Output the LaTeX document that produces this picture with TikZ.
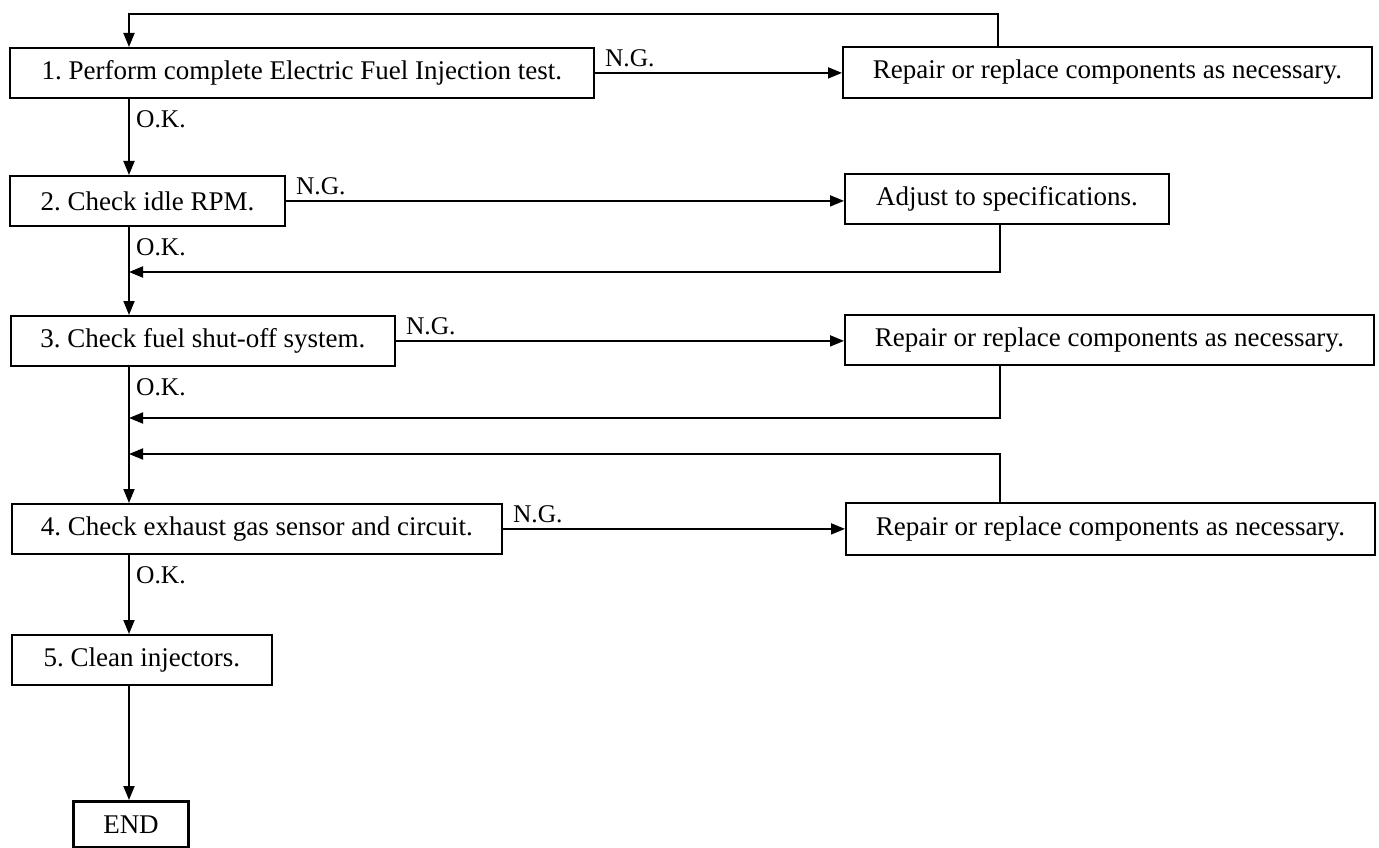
\documentclass[tikz,border=0pt]{standalone}
\usepackage{fontspec}
\setmainfont{Liberation Serif}
\usetikzlibrary{arrows.meta}
\begin{document}
\begin{tikzpicture}[x=1pt,y=-1pt,
  boxs/.style={draw, line width=1.8pt, rectangle, inner sep=0pt, anchor=north west,
    font=\fontsize{27}{31}\selectfont},
  lbl/.style={inner sep=0pt, font=\fontsize{25.5}{29}\selectfont},
  conn/.style={line width=1.8pt},
  arr/.style={line width=1.8pt, -{Triangle[length=14pt,width=11pt]}}]
\useasboundingbox (0,0) rectangle (1379,848);
\coordinate (mx) at (129,0);
% left column
\node[boxs, minimum width=584pt, minimum height=50pt] (b1) at (9,47) {1.~Perform complete Electric Fuel Injection test.};
\node[boxs, minimum width=275pt, minimum height=50pt] (b2) at (9,175) {2.~Check idle RPM.};
\node[boxs, minimum width=384pt, minimum height=50pt] (b3) at (10,315) {3.~Check fuel shut-off system.};
\node[boxs, minimum width=490pt, minimum height=50pt] (b4) at (11,503) {4.~Check exhaust gas sensor and circuit.};
\node[boxs, minimum width=260pt, minimum height=50pt] (b5) at (11,634) {5.~Clean injectors.};
\node[boxs, line width=3pt, minimum width=115pt, minimum height=46pt] (end) at (72,800) {END};
% right column
\node[boxs, minimum width=529pt, minimum height=51pt] (r1) at (842,46) {Repair or replace components as necessary.};
\node[boxs, minimum width=324pt, minimum height=50pt] (r2) at (844,173) {Adjust to specifications.};
\node[boxs, minimum width=529pt, minimum height=50pt] (r3) at (844,314) {Repair or replace components as necessary.};
\node[boxs, minimum width=529pt, minimum height=52pt] (r4) at (845,502) {Repair or replace components as necessary.};
% main flow
\draw[arr] (b1.south -| mx) -- (b2.north -| mx);
\draw[arr] (b2.south -| mx) -- (b3.north -| mx);
\draw[arr] (b3.south -| mx) -- (b4.north -| mx);
\draw[arr] (b4.south -| mx) -- (b5.north -| mx);
\draw[arr] (b5.south -| mx) -- (end.north -| mx);
% N.G. branches
\draw[arr] (b1.east) -- (b1.east -| r1.west);
\draw[arr] (b2.east) -- (b2.east -| r2.west);
\draw[arr] (b3.east) -- (b3.east -| r3.west);
\draw[arr] (b4.east) -- (b4.east -| r4.west);
% returns
\coordinate (fa) at (998,14);
\coordinate (ra) at (1000,272);
\coordinate (rb) at (1000,418);
\coordinate (rc) at (1000,454);
\draw[arr] (r1.north -| fa) -- (fa) -| (b1.north -| mx);
\draw[arr] (r2.south -| ra) -- (ra) -- (ra -| mx);
\draw[arr] (r3.south -| rb) -- (rb) -- (rb -| mx);
\draw[arr] (r4.north -| rc) -- (rc) -- (rc -| mx);
% labels
\node[lbl, anchor=base west] (ng1) at ([xshift=10pt,yshift=6pt]b1.east) {N.G.};
\node[lbl, anchor=base west] (ng2) at ([xshift=10pt,yshift=6pt]b2.east) {N.G.};
\node[lbl, anchor=base west] (ng3) at ([xshift=10pt,yshift=6pt]b3.east) {N.G.};
\node[lbl, anchor=base west] (ng4) at ([xshift=10pt,yshift=6pt]b4.east) {N.G.};
\path (b1.south -| mx) node[lbl, anchor=north west, xshift=7pt, yshift=-12pt] (ok1) {O.K.};
\path (b2.south -| mx) node[lbl, anchor=north west, xshift=7pt, yshift=-12pt] (ok2) {O.K.};
\path (b3.south -| mx) node[lbl, anchor=north west, xshift=7pt, yshift=-12pt] (ok3) {O.K.};
\path (b4.south -| mx) node[lbl, anchor=north west, xshift=7pt, yshift=-12pt] (ok4) {O.K.};
\end{tikzpicture}
\end{document}
